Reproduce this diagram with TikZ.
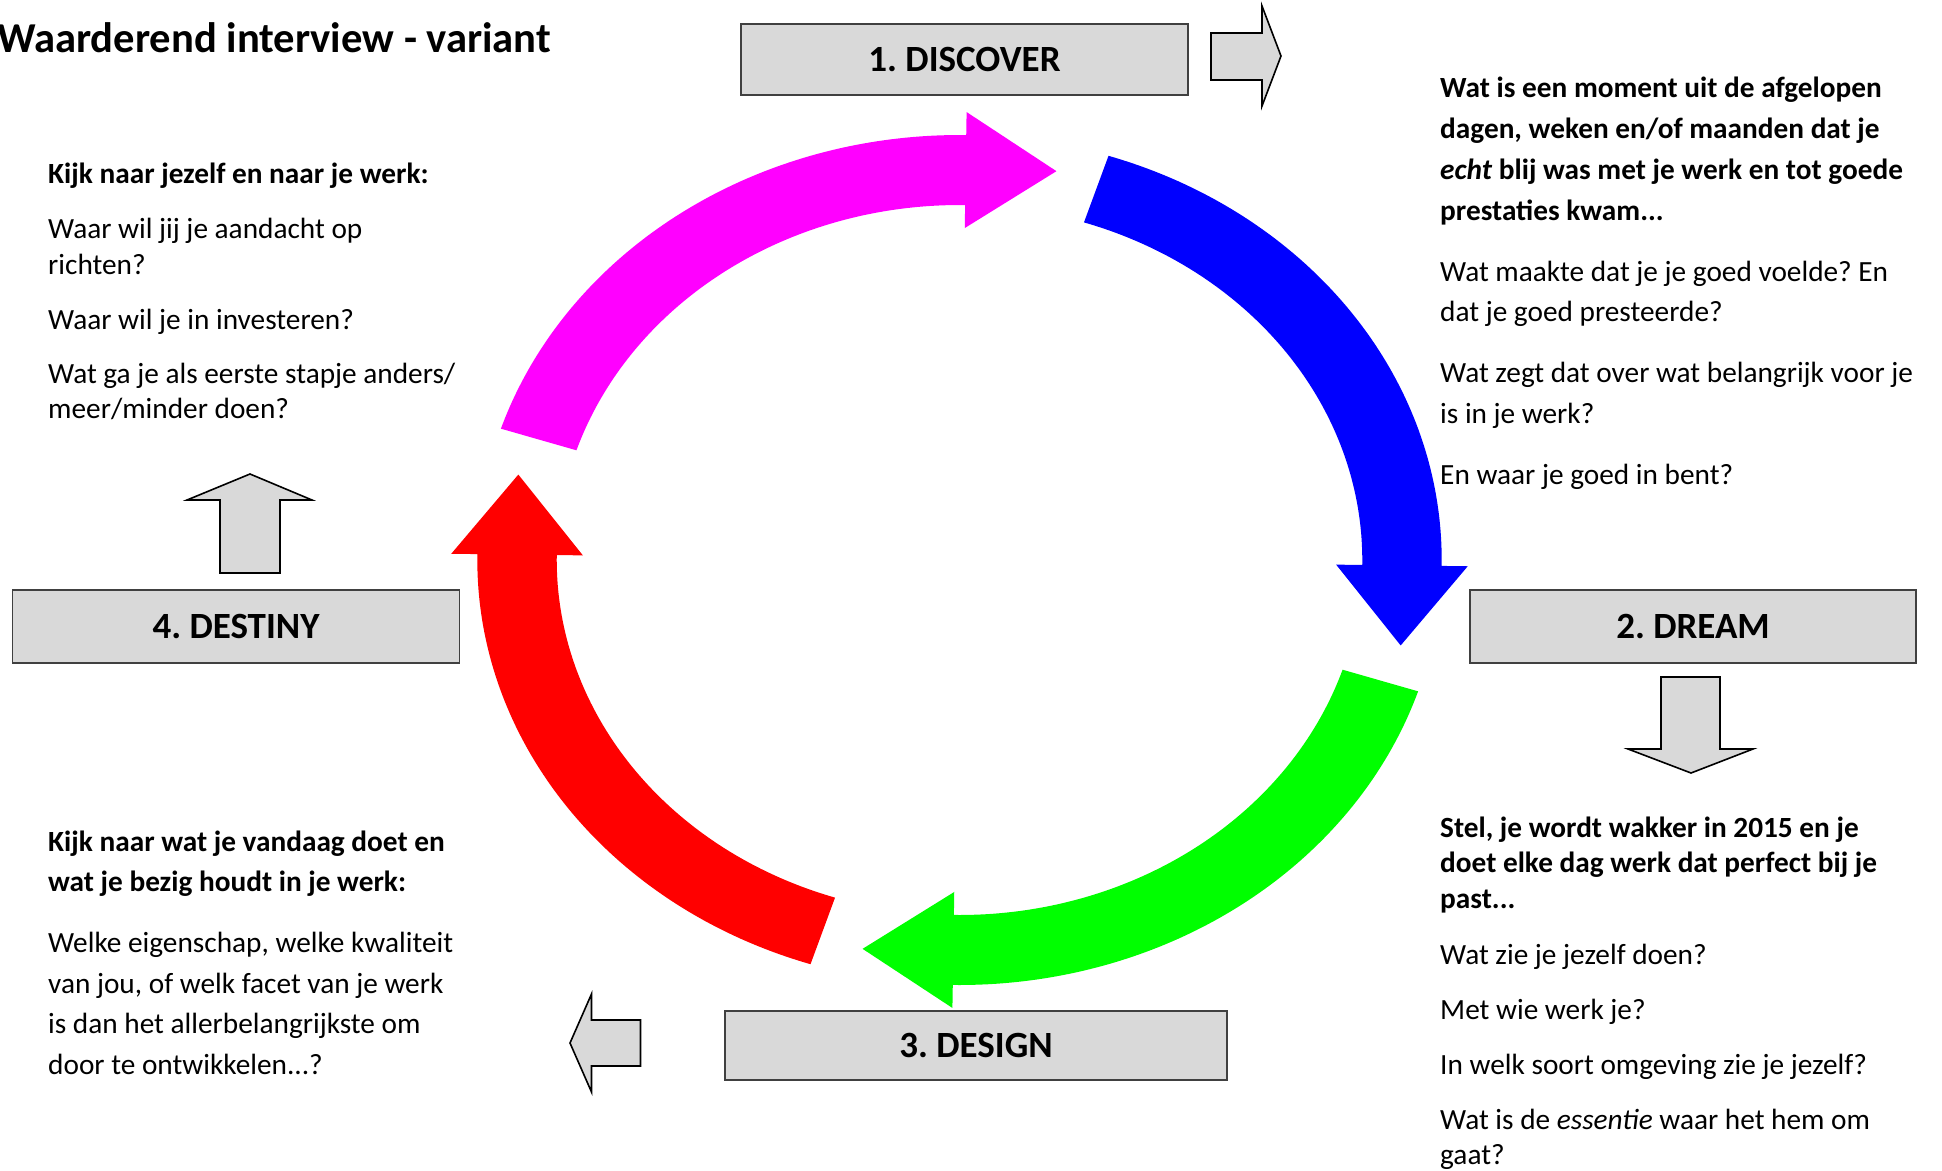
\documentclass[tikz,border=0pt]{standalone}
\usepackage{fontspec}
\setmainfont{Carlito}
\frenchspacing
\definecolor{boxgray}{HTML}{D9D9D9}
\definecolor{boxline}{HTML}{404040}
\definecolor{cmag}{RGB}{255,0,255}
\definecolor{cblue}{RGB}{0,0,255}
\definecolor{cgreen}{RGB}{0,255,0}
\definecolor{cred}{RGB}{255,0,0}
\newcommand\tline[4][]{\node[txt,#1] (#2) at #3 {#4};}
\begin{document}
\begin{tikzpicture}[x=1pt,y=-1pt,
  txt/.style={anchor=base west,inner sep=0pt,font=\fontsize{29.3}{35}\selectfont},
  btxt/.style={txt,font=\bfseries\fontsize{29.3}{35}\selectfont},
  phase/.style={draw=boxline,line width=1.6pt,fill=boxgray,inner sep=0pt,
    font=\bfseries\fontsize{37}{44}\selectfont,text height=24pt,text depth=0pt},
  grayarrow/.style={draw=black,line width=1.6pt,fill=boxgray,line join=miter}]
\useasboundingbox (0,0) rectangle (1942,1170);

% title
\node[anchor=base west,inner sep=0pt,font=\bfseries\fontsize{42.6}{50}\selectfont] (title) at (-3,52) {Waarderend interview - variant};

% colored ring of arrows
\begin{scope}[shift={(959.5,560)},xscale=1.1346,yscale=-1]
\foreach \col/\ta in {cmag/162,cblue/72,cgreen/-18,cred/-108}{
  \pgfmathsetmacro\tb{\ta-72.8}
  \fill[\col] plot[domain=\ta:\tb,samples=90] ({425*cos(\x)},{425*sin(\x)})
    -- ({448*cos(\tb)},{448*sin(\tb)})
    -- ({390*cos(\tb)+80*sin(\tb)},{390*sin(\tb)-80*cos(\tb)})
    -- ({332*cos(\tb)},{332*sin(\tb)})
    -- plot[domain=\tb:\ta,samples=90] ({355*cos(\x)},{355*sin(\x)}) -- cycle;
}
\end{scope}

% phase boxes
\node[phase,minimum width=447pt,minimum height=71pt] (discover) at (964.5,59.5) {1. DISCOVER};
\node[phase,minimum width=446pt,minimum height=73pt] (dream) at (1693,626.5) {2. DREAM};
\node[phase,minimum width=502pt,minimum height=69pt] (design) at (976,1045.5) {3. DESIGN};
\node[phase,minimum width=447pt,minimum height=73pt] (destiny) at (236,626.5) {4. DESTINY};

% small gray block arrows
\draw[grayarrow] (1211,33) -- (1262,33) -- (1262,6) -- (1281,56) -- (1262,106) -- (1262,80) -- (1211,80) -- cycle;
\draw[grayarrow] (1661,677) -- (1720,677) -- (1720,749) -- (1753,749) -- (1691,773) -- (1628,749) -- (1661,749) -- cycle;
\draw[grayarrow] (220,573) -- (220,500) -- (187,500) -- (250,474) -- (312,500) -- (280,500) -- (280,573) -- cycle;
\draw[grayarrow] (640.5,1020) -- (591.5,1020) -- (591.5,994) -- (570,1043) -- (591.5,1092) -- (591.5,1066) -- (640.5,1066) -- cycle;

% left top text
\tline[btxt]{k1}{(48,183)}{Kijk naar jezelf en naar je werk:}
\tline{k2}{(48,238)}{Waar wil jij je aandacht op}
\tline{k3}{(48,274)}{richten?}
\tline{k4}{(48,329)}{Waar wil je in investeren?}
\tline{k5}{(48,383)}{Wat ga je als eerste stapje anders/}
\tline{k6}{(48,418)}{meer/minder doen?}

% right top text
\tline[btxt]{r1}{(1440,97)}{Wat is een moment uit de afgelopen}
\tline[btxt]{r2}{(1440,138)}{dagen, weken en/of maanden dat je}
\tline[btxt]{r3}{(1440,179)}{\textit{echt} blij was met je werk en tot goede}
\tline[btxt]{r4}{(1440,220)}{prestaties kwam...}
\tline{r5}{(1440,281)}{Wat maakte dat je je goed voelde? En}
\tline{r6}{(1440,321)}{dat je goed presteerde?}
\tline{r7}{(1440,382)}{Wat zegt dat over wat belangrijk voor je}
\tline{r8}{(1440,423)}{is in je werk?}
\tline{r9}{(1440,484)}{En waar je goed in bent?}

% right bottom text
\tline[btxt]{s1}{(1440,837)}{Stel, je wordt wakker in 2015 en je}
\tline[btxt]{s2}{(1440,872)}{doet elke dag werk dat perfect bij je}
\tline[btxt]{s3}{(1440,908)}{past...}
\tline{s4}{(1440,964)}{Wat zie je jezelf doen?}
\tline{s5}{(1440,1019)}{Met wie werk je?}
\tline{s6}{(1440,1074)}{In welk soort omgeving zie je jezelf?}
\tline{s7}{(1440,1129)}{Wat is de \textit{essentie} waar het hem om}
\tline{s8}{(1440,1164)}{gaat?}

% left bottom text
\tline[btxt]{d1}{(48,851)}{Kijk naar wat je vandaag doet en}
\tline[btxt]{d2}{(48,891)}{wat je bezig houdt in je werk:}
\tline{d3}{(48,952)}{Welke eigenschap, welke kwaliteit}
\tline{d4}{(48,993)}{van jou, of welk facet van je werk}
\tline{d5}{(48,1033)}{is dan het allerbelangrijkste om}
\tline{d6}{(48,1074)}{door te ontwikkelen...?}
\end{tikzpicture}
\end{document}
